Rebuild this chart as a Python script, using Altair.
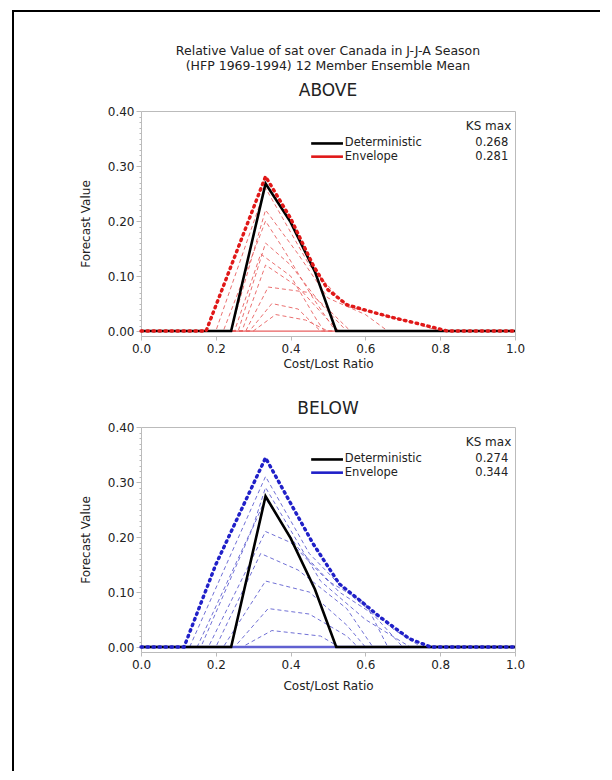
import altair as alt
import pandas as pd

# ---------------- data ----------------
x_ticks = [0.0, 0.2, 0.4, 0.6, 0.8, 1.0]
y_ticks = [0.0, 0.1, 0.2, 0.3, 0.4]
y_minor = [round(i * 0.01, 2) for i in range(41)]

det_x = [0.0, 0.241, 0.333, 0.40, 0.465, 0.522, 1.0]
det_above_y = [0.0, 0.0, 0.268, 0.198, 0.108, 0.0, 0.0]
det_below_y = [0.0, 0.0, 0.274, 0.198, 0.105, 0.0, 0.0]

env_above_x = [0.0, 0.174, 0.333, 0.40, 0.46, 0.50, 0.55, 0.60, 0.67, 0.75, 0.82, 1.0]
env_above_y = [0.0, 0.0, 0.281, 0.205, 0.12, 0.075, 0.048, 0.038, 0.025, 0.012, 0.0, 0.0]

env_below_x = [0.0, 0.115, 0.20, 0.333, 0.406, 0.46, 0.53, 0.585, 0.638, 0.718, 0.775, 1.0]
env_below_y = [0.0, 0.0, 0.15, 0.344, 0.254, 0.188, 0.115, 0.085, 0.055, 0.015, 0.0, 0.0]

members_above_x = [
    [0.0, 0.20, 0.333, 0.45, 0.55, 0.70, 0.80, 1.0],
    [0.0, 0.22, 0.333, 0.38, 0.46, 0.52, 1.0],
    [0.0, 0.24, 0.333, 0.42, 0.50, 0.60, 0.66, 1.0],
    [0.0, 0.25, 0.32, 0.40, 0.47, 0.49, 1.0],
    [0.0, 0.26, 0.333, 0.40, 0.48, 0.55, 1.0],
    [0.0, 0.27, 0.333, 0.42, 0.50, 0.53, 1.0],
    [0.0, 0.28, 0.34, 0.45, 0.50, 0.56, 1.0],
    [0.0, 0.29, 0.35, 0.42, 0.48, 1.0],
    [0.0, 0.30, 0.36, 0.44, 0.50, 1.0],
]
members_above_y = [
    [0.0, 0.0, 0.26, 0.12, 0.045, 0.02, 0.0, 0.0],
    [0.0, 0.0, 0.20, 0.15, 0.06, 0.0, 0.0],
    [0.0, 0.0, 0.22, 0.14, 0.06, 0.03, 0.0, 0.0],
    [0.0, 0.0, 0.14, 0.10, 0.02, 0.0, 0.0],
    [0.0, 0.0, 0.16, 0.12, 0.05, 0.0, 0.0],
    [0.0, 0.0, 0.12, 0.08, 0.02, 0.0, 0.0],
    [0.0, 0.0, 0.08, 0.07, 0.04, 0.0, 0.0],
    [0.0, 0.0, 0.05, 0.04, 0.0, 0.0],
    [0.0, 0.0, 0.03, 0.02, 0.0, 0.0],
]

members_below_x = [
    [0.0, 0.13, 0.333, 0.45, 0.55, 0.68, 0.75, 1.0],
    [0.0, 0.15, 0.30, 0.333, 0.48, 0.60, 0.72, 1.0],
    [0.0, 0.16, 0.333, 0.42, 0.53, 0.62, 0.70, 1.0],
    [0.0, 0.18, 0.333, 0.40, 0.50, 0.60, 0.66, 1.0],
    [0.0, 0.20, 0.32, 0.42, 0.55, 0.62, 1.0],
    [0.0, 0.22, 0.333, 0.45, 0.55, 0.60, 1.0],
    [0.0, 0.25, 0.34, 0.45, 0.55, 0.58, 1.0],
    [0.0, 0.27, 0.35, 0.48, 0.53, 1.0],
]
members_below_y = [
    [0.0, 0.0, 0.31, 0.17, 0.10, 0.03, 0.0, 0.0],
    [0.0, 0.0, 0.22, 0.29, 0.12, 0.05, 0.0, 0.0],
    [0.0, 0.0, 0.27, 0.18, 0.10, 0.06, 0.0, 0.0],
    [0.0, 0.0, 0.21, 0.19, 0.12, 0.08, 0.0, 0.0],
    [0.0, 0.0, 0.17, 0.14, 0.07, 0.0, 0.0],
    [0.0, 0.0, 0.12, 0.10, 0.04, 0.0, 0.0],
    [0.0, 0.0, 0.07, 0.06, 0.02, 0.0, 0.0],
    [0.0, 0.0, 0.03, 0.02, 0.0, 0.0],
]

ks_above = [0.268, 0.281]
ks_below = [0.274, 0.344]
legend_names = ["Deterministic", "Envelope"]

title_lines = ["Relative Value of sat over Canada in J-J-A Season",
               "(HFP 1969-1994) 12 Member Ensemble Mean"]

FONT = "DejaVu Sans"
TXT = "#222222"

xs = alt.Scale(domain=[0, 1], nice=False, zero=False)
ys = alt.Scale(domain=[-0.009, 0.40], nice=False, zero=False)

major_test = "abs(datum.value*10 - round(datum.value*10)) < 0.001"


def x_axis(title_pad):
    return alt.Axis(values=x_ticks, format=".1f", title="Cost/Lost Ratio", tickSize=4,
                    tickColor="#bbbbbb", domain=False, grid=False, labelPadding=3,
                    labelFlush=False, titlePadding=title_pad,
                    labelFont=FONT, labelFontSize=12, labelColor=TXT,
                    titleFont=FONT, titleFontSize=12, titleColor=TXT, titleFontWeight="normal")


Y_AXIS = alt.Axis(values=y_minor, title="Forecast Value",
                  labelExpr=f"{major_test} ? format(datum.value, '.2f') : ''",
                  tickSize={"condition": {"test": major_test, "value": 5}, "value": 2},
                  tickColor="#bbbbbb", domain=False, grid=False, labelOverlap=False,
                  labelFlush=False, labelPadding=2, titlePadding=15,
                  labelFont=FONT, labelFontSize=12, labelColor=TXT,
                  titleFont=FONT, titleFontSize=12, titleColor=TXT, titleFontWeight="normal")


def label(text, x, y, size):
    return alt.Chart(pd.DataFrame({"t": [text]})).mark_text(
        font=FONT, fontSize=size, color=TXT, align="center", baseline="middle"
    ).encode(x=alt.value(x), y=alt.value(y), text="t:N")


def panel(mem_x, mem_y, env_x, env_y, det_y, ks, env_color, mem_color, base_w,
          titles, border, xpad):
    XA = x_axis(xpad)

    def X(f):
        return alt.X(f, scale=xs, axis=XA)

    def Y(f):
        return alt.Y(f, scale=ys, axis=Y_AXIS)

    rows = []
    for m, (mx, my) in enumerate(zip(mem_x, mem_y)):
        for i, (a, b) in enumerate(zip(mx, my)):
            rows.append({"x": a, "y": b, "m": m, "o": i})
    mdf = pd.DataFrame(rows)
    edf = pd.DataFrame({"x": env_x, "y": env_y, "o": range(len(env_x))})
    ddf = pd.DataFrame({"x": det_x, "y": det_y, "o": range(len(det_x))})

    members = alt.Chart(mdf).mark_line(
        color=mem_color, strokeWidth=0.9, strokeDash=[4, 3], clip=True
    ).encode(x=X("x:Q"), y=Y("y:Q"), detail="m:N", order="o:Q")

    base0 = alt.Chart(pd.DataFrame({"x": [0.0, 1.0], "y": [0.0, 0.0]})).mark_line(
        color=mem_color, strokeWidth=base_w).encode(x=X("x:Q"), y=Y("y:Q"))

    det = alt.Chart(ddf).mark_line(color="black", strokeWidth=2.6).encode(
        x=X("x:Q"), y=Y("y:Q"), order="o:Q")

    env = alt.Chart(edf).mark_line(
        color=env_color, strokeWidth=3.4, strokeDash=[1.5, 4.5], strokeCap="round"
    ).encode(x=X("x:Q"), y=Y("y:Q"), order="o:Q")

    leg = pd.DataFrame({
        "name": legend_names,
        "val": [f"{v:.3f}" for v in ks],
        "y": [0.341, 0.317],
        "x0": [0.455, 0.455], "x1": [0.54, 0.54], "xl": [0.545, 0.545], "xv": [0.982, 0.982],
        "c": ["black", env_color],
    })
    leg_lines = alt.Chart(leg).mark_rule(strokeWidth=2.6).encode(
        x=X("x0:Q"), x2="x1:Q", y=Y("y:Q"), color=alt.Color("c:N", scale=None))
    leg_names = alt.Chart(leg).mark_text(
        align="left", baseline="middle", font=FONT, fontSize=11.5, color=TXT
    ).encode(x=X("xl:Q"), y=Y("y:Q"), text="name:N")
    leg_vals = alt.Chart(leg).mark_text(
        align="right", baseline="middle", font=FONT, fontSize=11.5, color=TXT
    ).encode(x=X("xv:Q"), y=Y("y:Q"), text="val:N")
    ks_head = alt.Chart(pd.DataFrame({"x": [0.99], "y": [0.372], "t": ["KS max"]})).mark_text(
        align="right", baseline="middle", font=FONT, fontSize=12, color=TXT
    ).encode(x=X("x:Q"), y=Y("y:Q"), text="t:N")

    layers = [members, base0, det, env, leg_lines, leg_names, leg_vals, ks_head]
    layers += [label(t, 187, y, s) for (t, y, s) in titles]
    if border:
        one = pd.DataFrame({"k": [0]})
        bh = alt.Chart(one).mark_rule(color="black", strokeWidth=2).encode(
            x=alt.value(-129), x2=alt.value(459), y=alt.value(-100))
        bv = alt.Chart(one).mark_rule(color="black", strokeWidth=2).encode(
            x=alt.value(-128), y=alt.value(-101), y2=alt.value(660))
        layers += [bh, bv]
    return alt.layer(*layers).properties(width=374, height=225)


top_titles = [(title_lines[0], -60, 12.5), (title_lines[1], -45, 12.5), ("ABOVE", -20, 17)]
bot_titles = [("BELOW", -18, 17)]

top = panel(members_above_x, members_above_y, env_above_x, env_above_y, det_above_y,
            ks_above, "#e01818", "#e86060", 1.2, top_titles, True, 4)
bottom = panel(members_below_x, members_below_y, env_below_x, env_below_y, det_below_y,
               ks_below, "#2020c8", "#6060d0", 2.4, bot_titles, False, 10)

chart = alt.vconcat(top, bottom, spacing=91, bounds="flush").properties(
    padding={"left": 2, "top": 0, "right": 0, "bottom": 0}
).configure(background="white").configure_view(stroke="#bbbbbb", strokeWidth=1)

chart.save("out.html", embed_options={"renderer": "svg", "actions": False})
